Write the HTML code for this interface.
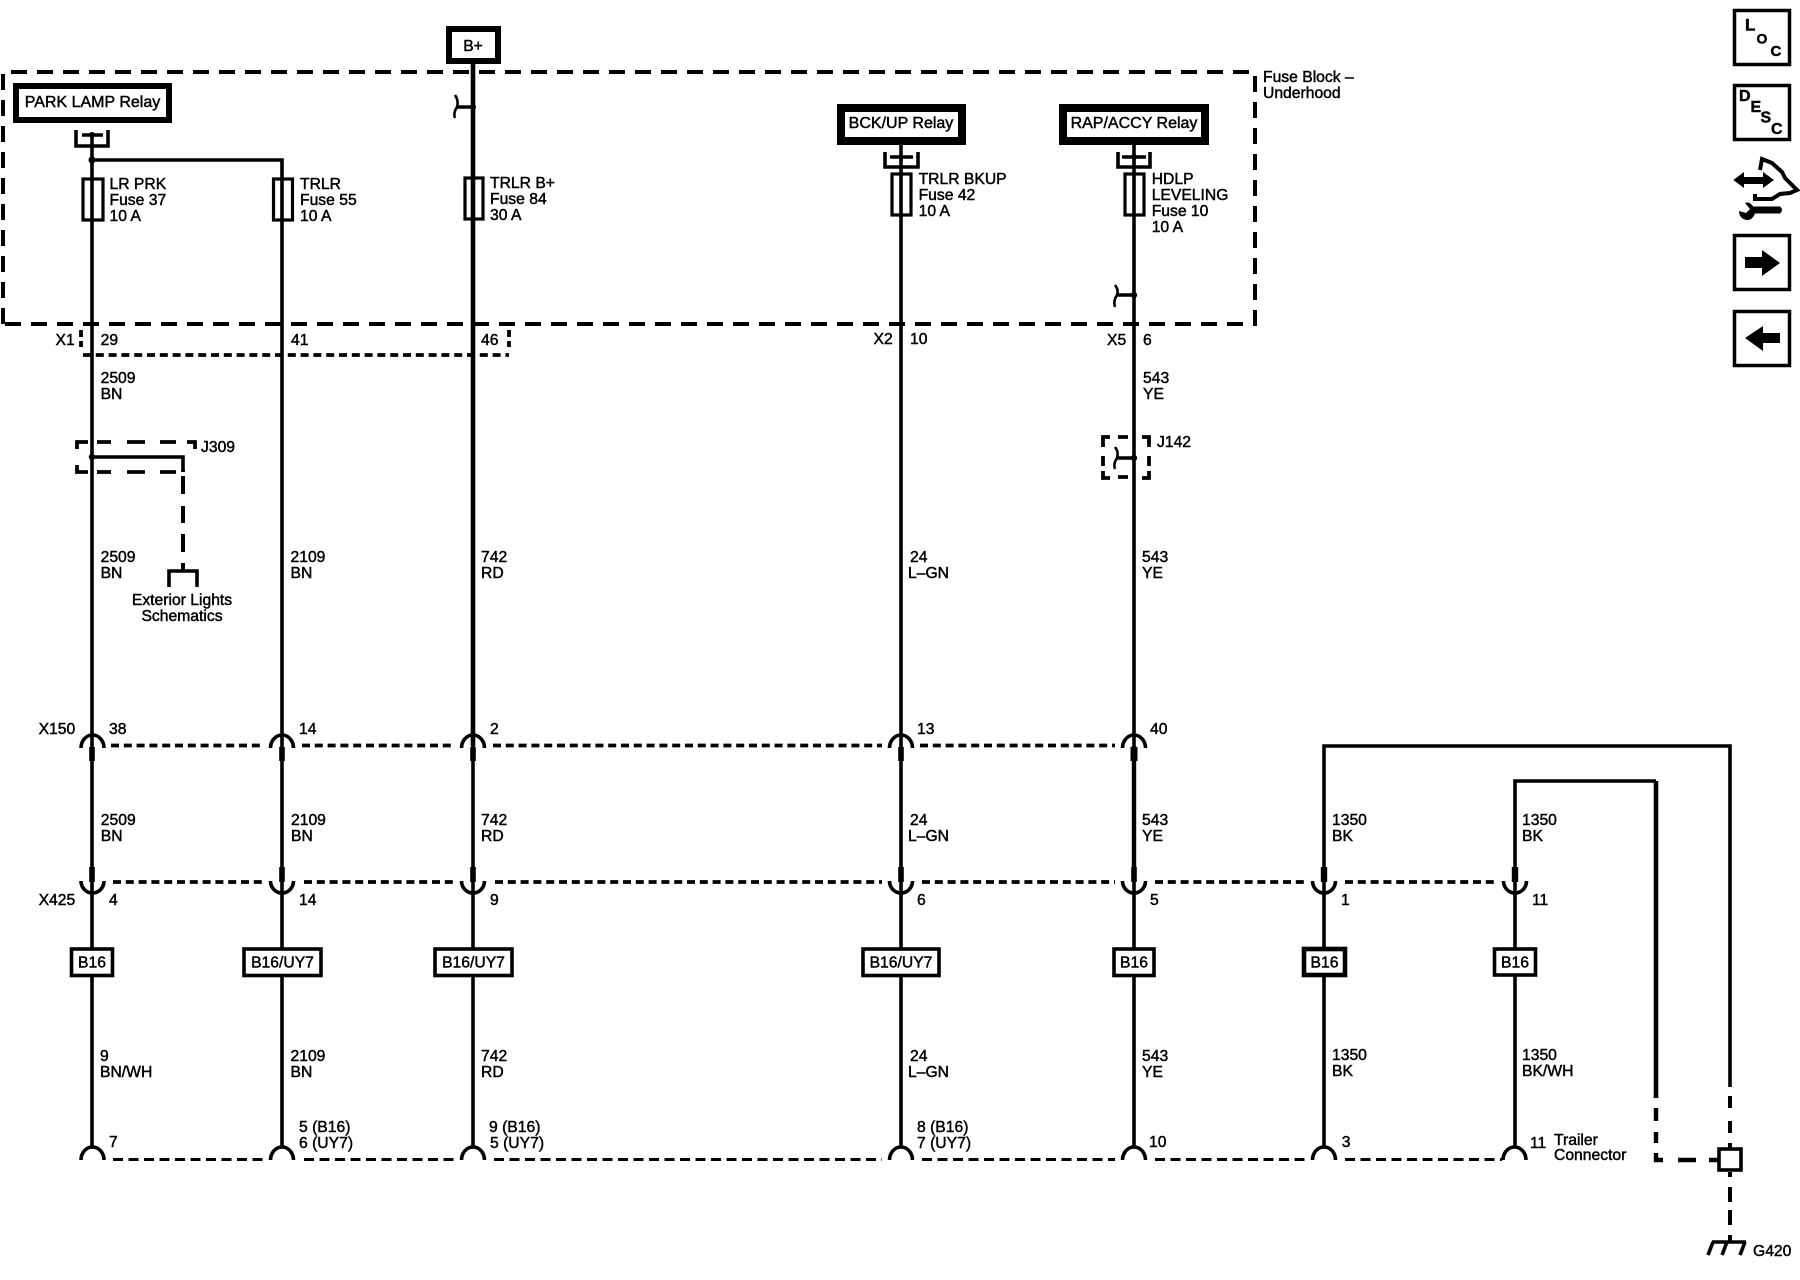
<!DOCTYPE html>
<html><head><meta charset="utf-8"><style>
html,body{margin:0;padding:0;background:#fff}
svg{display:block}
text{font-family:"Liberation Sans",sans-serif;font-size:15.7px;fill:#000;stroke:#000;stroke-width:.45}
.c{text-anchor:middle}
.r{font-size:16px}
.k{font-weight:bold;font-size:16px}
.w{fill:none;stroke:#000;stroke-width:3.6}
.b{fill:#fff;stroke:#000}
.d1{fill:none;stroke:#000;stroke-width:3.8;stroke-dasharray:8 4.8}
.d2{fill:none;stroke:#000;stroke-width:3;stroke-dasharray:10 5.5}
.d3{fill:none;stroke:#000;stroke-width:4;stroke-dasharray:16 10}
.a{fill:none;stroke:#000;stroke-width:3.6}
</style></head><body>
<svg width="1800" height="1280" viewBox="0 0 1800 1280" xmlns="http://www.w3.org/2000/svg">
<rect width="1800" height="1280" fill="#fff"/>

<!-- Fuse block dashed outline -->
<path class="d3" d="M3 324V72H1255V324Z"/>
<text x="1263" y="82">Fuse Block –</text>
<text x="1263" y="98">Underhood</text>

<!-- Main wires -->
<path class="w" d="M92 135V1147"/>
<path class="w" d="M92 160H282V1147"/>
<path class="w" style="stroke-width:4.6" d="M473 64V746"/>
<path class="w" d="M473 746V1147"/>
<path class="w" d="M901 135V1147"/>
<path class="w" d="M1134 135V746"/>
<path class="w" style="stroke-width:4.4" d="M1134 746V882"/>
<path class="w" d="M1134 882V1147"/>
<path class="w" d="M1324 1147V746H1730V1087"/>
<path class="w" d="M1515 1147V781H1656"/>
<path class="w" style="stroke-width:4.6" d="M1656 781V1098"/>
<circle cx="92" cy="160" r="3.5"/>

<!-- Lower right dashed ground leads -->
<path style="fill:none;stroke:#000;stroke-width:4.4" d="M1656 1108V1121M1656 1132V1143M1656 1153V1160H1663M1678 1160H1696M1709 1160H1718"/>
<path style="fill:none;stroke:#000;stroke-width:4" d="M1730 1096V1108M1730 1121V1133M1730 1143V1148M1730 1172V1177M1730 1187V1202M1730 1210V1225M1730 1235V1242"/>
<rect x="1719" y="1149" width="22" height="21" fill="#fff" stroke="#000" stroke-width="3.6"/>
<path style="fill:none;stroke:#000;stroke-width:3.6" d="M1712 1242H1746M1713 1242L1708 1255M1727 1242L1722 1255M1745 1242L1740 1255"/>
<text x="1753" y="1256">G420</text>

<!-- B+ -->
<rect x="449" y="29" width="49" height="32" class="b" stroke-width="6"/>
<text x="473" y="51" class="c">B+</text>
<path class="w" d="M473 107H456"/>
<path style="fill:none;stroke:#000;stroke-width:2.6" d="M455 95Q459 101 457 107Q453 113 455 118"/>
<circle cx="473" cy="107" r="3"/>

<!-- Relay boxes -->
<rect x="16" y="86" width="153" height="34" class="b" stroke-width="6"/>
<text x="92.5" y="107" class="c r">PARK LAMP Relay</text>
<rect x="841" y="108" width="121" height="33" class="b" stroke-width="8"/>
<text x="901" y="128" class="c r">BCK/UP Relay</text>
<rect x="1063" y="108" width="142" height="33" class="b" stroke-width="8"/>
<text x="1134" y="128" class="c r">RAP/ACCY Relay</text>

<!-- Relay brackets -->
<path class="w" d="M76 130V146H108V130M82 135H103"/><circle cx="92" cy="135" r="3"/>
<path class="w" d="M885 152V167H918V152M890 157H913"/><circle cx="901" cy="157" r="2.6"/>
<path class="w" d="M1118 152V167H1150V152M1122 157H1146"/><circle cx="1134" cy="157" r="3"/>

<!-- Fuses -->
<rect x="83" y="179" width="20" height="41" fill="none" stroke="#000" stroke-width="3.2"/>
<rect x="273.5" y="179" width="19" height="41" fill="none" stroke="#000" stroke-width="3.2"/>
<rect x="465" y="178" width="18" height="41" fill="none" stroke="#000" stroke-width="3.2"/>
<rect x="892" y="174" width="19" height="41" fill="none" stroke="#000" stroke-width="3.2"/>
<rect x="1125" y="174" width="19" height="41" fill="none" stroke="#000" stroke-width="3.2"/>

<text x="109.5" y="189">LR PRK</text><text x="109.5" y="205">Fuse 37</text><text x="109.5" y="221">10 A</text>
<text x="300" y="189">TRLR</text><text x="300" y="205">Fuse 55</text><text x="300" y="221">10 A</text>
<text x="490" y="188">TRLR B+</text><text x="490" y="204">Fuse 84</text><text x="490" y="220">30 A</text>
<text x="918.6" y="184">TRLR BKUP</text><text x="918.6" y="200">Fuse 42</text><text x="918.6" y="216">10 A</text>
<text x="1151.7" y="184">HDLP</text><text x="1151.7" y="200">LEVELING</text><text x="1151.7" y="216">Fuse 10</text><text x="1151.7" y="232">10 A</text>

<!-- X5 branch -->
<path class="w" d="M1134 295H1116"/>
<path style="fill:none;stroke:#000;stroke-width:2.6" d="M1115 285Q1119 290 1117 295Q1113 301 1115 307"/>
<circle cx="1134" cy="295" r="3.2"/>

<!-- X1 dashed connector -->
<path class="d1" d="M83 355H509"/>
<path style="fill:none;stroke:#000;stroke-width:3.8" d="M81 330V337M81 341V347M509 330V337M509 341V347"/>
<text x="55.5" y="345">X1</text><text x="100.6" y="345">29</text><text x="291" y="345">41</text><text x="481" y="345">46</text>
<text x="873.5" y="344">X2</text><text x="910" y="344">10</text><text x="1107" y="345">X5</text><text x="1143" y="345">6</text>
<text x="100.6" y="383">2509</text><text x="100.6" y="399">BN</text>
<text x="1143" y="383">543</text><text x="1143" y="399">YE</text>

<!-- J309 -->
<path style="fill:none;stroke:#000;stroke-width:3.8" d="M77 449V442H88M97 442H111M127 442H145M160 442H176M187 442H195V449M77 465V472H88M97 472H111M127 472H145M160 472H176"/>
<path class="w" d="M92 457H183V470"/>
<path style="fill:none;stroke:#000;stroke-width:4" d="M183 470V472M183 476V494M183 506V523M183 534V552M183 563V571"/>
<path class="w" d="M169 587V571H197V587"/>
<circle cx="92" cy="457" r="3.2"/>
<text x="201" y="452">J309</text>
<text x="182" y="605" class="c">Exterior Lights</text>
<text x="182" y="621" class="c">Schematics</text>

<!-- J142 -->
<path style="fill:none;stroke:#000;stroke-width:3.8" d="M1110 437H1103V447M1103 456V466M1103 471V478H1110M1118 437H1128M1118 477H1128M1142 437H1149V447M1149 456V466M1149 471V478H1142"/>
<path class="w" d="M1134 458H1116"/>
<path style="fill:none;stroke:#000;stroke-width:2.6" d="M1115 447Q1119 452 1117 458Q1113 464 1115 469"/>
<circle cx="1134" cy="458" r="3.2"/>
<text x="1157" y="447">J142</text>

<!-- Second row wire labels -->
<text x="100.6" y="562">2509</text><text x="100.6" y="578">BN</text>
<text x="290.5" y="562">2109</text><text x="290.5" y="578">BN</text>
<text x="481" y="562">742</text><text x="481" y="578">RD</text>
<text x="910" y="562">24</text><text x="908" y="578">L–GN</text>
<text x="1142" y="562">543</text><text x="1142" y="578">YE</text>

<!-- X150 row -->
<text x="38.6" y="734">X150</text>
<text x="109" y="734">38</text><text x="299" y="734">14</text><text x="490" y="734">2</text><text x="917" y="734">13</text><text x="1150" y="734">40</text>
<path class="d1" d="M111 745.5H263M302 745.5H454M493 745.5H882M920 745.5H1115"/>
<path class="a" d="M81 748A11.5 13 0 0 1 104 748M270.5 748A11.5 13 0 0 1 293.5 748M461.5 748A11.5 13 0 0 1 484.5 748M889.5 748A11.5 13 0 0 1 912.5 748M1122.5 748A11.5 13 0 0 1 1145.5 748"/>
<path style="fill:none;stroke:#000;stroke-width:5.6" d="M92 747V761M282 747V761M473 747V761M901 747V761"/>
<path style="fill:none;stroke:#000;stroke-width:7" d="M1134 747V761"/>

<!-- Between labels -->
<text x="100.8" y="825">2509</text><text x="100.8" y="841">BN</text>
<text x="291" y="825">2109</text><text x="291" y="841">BN</text>
<text x="481" y="825">742</text><text x="481" y="841">RD</text>
<text x="910" y="825">24</text><text x="908" y="841">L–GN</text>
<text x="1142" y="825">543</text><text x="1142" y="841">YE</text>
<text x="1332" y="825">1350</text><text x="1332" y="841">BK</text>
<text x="1522" y="825">1350</text><text x="1522" y="841">BK</text>

<!-- X425 row -->
<path class="d1" d="M113 882H263M304 882H454M495 882H882M922 882H1115M1155 882H1305M1345 882H1496"/>
<path class="a" d="M81 881A11.5 12 0 0 0 104 881M270.5 881A11.5 12 0 0 0 293.5 881M461.5 881A11.5 12 0 0 0 484.5 881M889.5 881A11.5 12 0 0 0 912.5 881M1122.5 881A11.5 12 0 0 0 1145.5 881M1312.5 881A11.5 12 0 0 0 1335.5 881M1503.5 881A11.5 12 0 0 0 1526.5 881"/>
<path style="fill:none;stroke:#000;stroke-width:5.6" d="M92 867V882M282 867V882M473 867V882M901 867V882M1134 867V882"/>
<path style="fill:none;stroke:#000;stroke-width:6.4" d="M1324 867V882M1515 867V882"/>
<text x="38.6" y="905">X425</text>
<text x="109" y="905">4</text><text x="299" y="905">14</text><text x="490" y="905">9</text><text x="917" y="905">6</text><text x="1150" y="905">5</text><text x="1341" y="905">1</text><text x="1532" y="905">11</text>

<!-- Option boxes -->
<rect x="71.5" y="949" width="41" height="26.5" class="b" stroke-width="3.6"/>
<text x="92" y="967.5" class="c">B16</text>
<rect x="244" y="949" width="77" height="26.5" class="b" stroke-width="3.6"/>
<text x="282.5" y="967.5" class="c">B16/UY7</text>
<rect x="435" y="949" width="77" height="26.5" class="b" stroke-width="3.6"/>
<text x="473.5" y="967.5" class="c">B16/UY7</text>
<rect x="863" y="949" width="76" height="26.5" class="b" stroke-width="3.6"/>
<text x="901" y="967.5" class="c">B16/UY7</text>
<rect x="1114" y="949" width="40" height="26.5" class="b" stroke-width="3.6"/>
<text x="1134" y="967.5" class="c">B16</text>
<rect x="1304" y="949" width="41" height="26" class="b" stroke-width="4.6"/>
<text x="1324.5" y="967.5" class="c">B16</text>
<rect x="1494.5" y="949" width="41" height="26" class="b" stroke-width="3.6"/>
<text x="1515" y="967.5" class="c">B16</text>

<!-- Lower labels -->
<text x="100" y="1061">9</text><text x="100" y="1077">BN/WH</text>
<text x="290.5" y="1061">2109</text><text x="290.5" y="1077">BN</text>
<text x="481" y="1061">742</text><text x="481" y="1077">RD</text>
<text x="910" y="1061">24</text><text x="908" y="1077">L–GN</text>
<text x="1142" y="1061">543</text><text x="1142" y="1077">YE</text>
<text x="1332" y="1060">1350</text><text x="1332" y="1076">BK</text>
<text x="1522" y="1060">1350</text><text x="1522" y="1076">BK/WH</text>

<!-- Trailer connector row -->
<path class="d2" d="M113 1159.5H263M304 1159.5H454M494 1159.5H882M922 1159.5H1115M1155 1159.5H1310M1345 1159.5H1502"/>
<path class="a" d="M81 1160A11.5 13 0 0 1 104 1160M270.5 1160A11.5 13 0 0 1 293.5 1160M461.5 1160A11.5 13 0 0 1 484.5 1160M889.5 1160A11.5 13 0 0 1 912.5 1160M1122.5 1160A11.5 13 0 0 1 1145.5 1160M1312.5 1160A11.5 13 0 0 1 1335.5 1160M1503 1160A11.5 13 0 0 1 1526 1160"/>
<text x="109" y="1147">7</text>
<text x="299" y="1132">5 (B16)</text><text x="299" y="1148">6 (UY7)</text>
<text x="489" y="1132">9 (B16)</text><text x="490" y="1148">5 (UY7)</text>
<text x="917" y="1132">8 (B16)</text><text x="917" y="1148">7 (UY7)</text>
<text x="1149" y="1147">10</text>
<text x="1341.7" y="1147">3</text>
<text x="1530" y="1148">11</text>
<text x="1554" y="1145">Trailer</text><text x="1554" y="1160">Connector</text>

<!-- Right side icons -->
<rect x="1734.5" y="10.5" width="55" height="54" fill="#fff" stroke="#000" stroke-width="3.5"/>
<text x="1745" y="30.7" class="k" style="font-size:17px">L</text>
<text x="1756.5" y="43.5" class="k" style="font-size:14px">O</text>
<text x="1770.5" y="56" class="k" style="font-size:15px">C</text>
<rect x="1734.5" y="85.5" width="55" height="54" fill="#fff" stroke="#000" stroke-width="3.5"/>
<text x="1739" y="101" class="k">D</text>
<text x="1750.5" y="112" class="k">E</text>
<text x="1760.5" y="122.7" class="k">S</text>
<text x="1771" y="134" class="k">C</text>

<!-- Hand / wrench icon -->
<path d="M1733.3 180L1744 172V177H1763V172L1774 180L1763 188V184H1744V188Z"/>
<path fill="none" stroke="#000" stroke-width="4" d="M1760 170L1762 159L1772 163L1782 172L1785 178L1797 190L1790 193L1780 194L1772 199L1755 199V194"/>
<path d="M1753 206.500H1780Q1784 210 1780 213.500H1755Q1752 221 1746 220Q1739 218 1739 211L1746 213L1750 209L1745 203Q1750 201 1753 206.500Z"/>

<rect x="1734.5" y="235.5" width="55" height="54" fill="#fff" stroke="#000" stroke-width="3.5"/>
<path d="M1745 257H1762V250L1780 263L1762 276V268H1745Z"/>
<rect x="1734.5" y="311.5" width="55" height="54" fill="#fff" stroke="#000" stroke-width="3.5"/>
<path d="M1780 333H1763V326L1745 338L1763 351V343H1780Z"/>
</svg>
</body></html>
